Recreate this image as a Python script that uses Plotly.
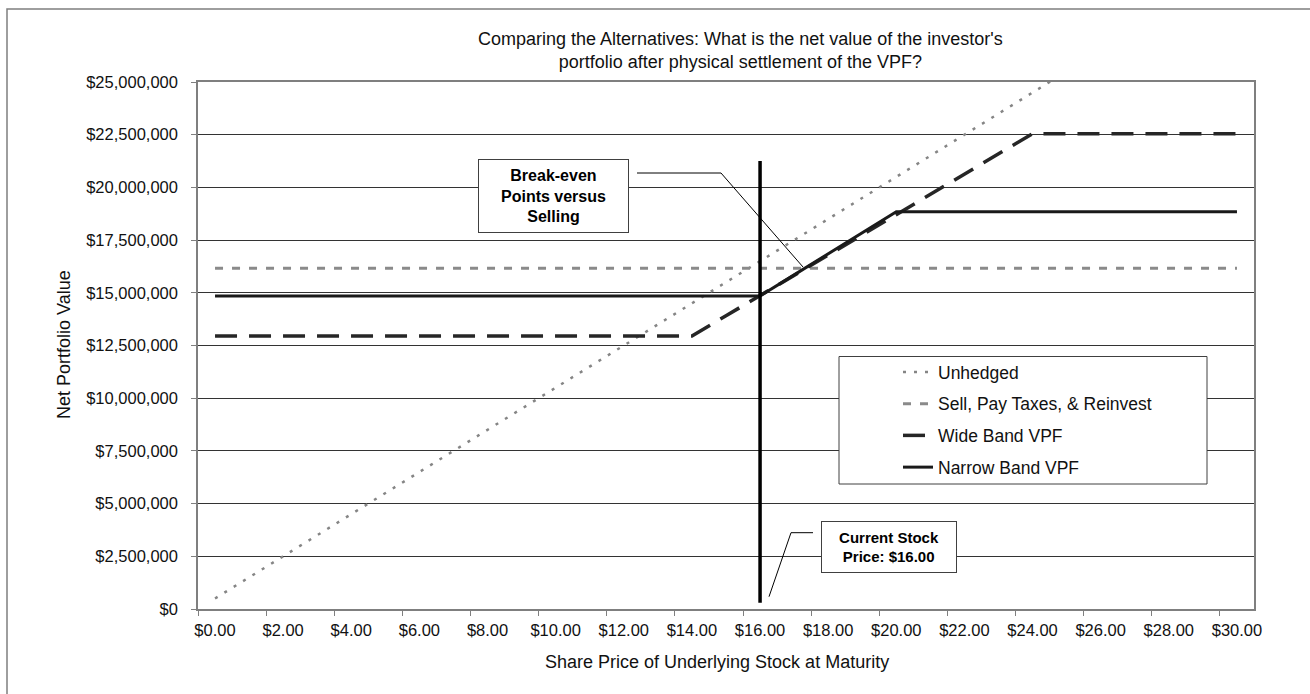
import plotly.graph_objects as go

# ---------------- data ----------------
prices = [0, 1, 2, 3, 4, 5, 6, 7, 8, 9, 10, 11, 12, 13, 14, 15,
          16, 17, 18, 19, 20, 21, 22, 23, 24, 25, 26, 27, 28, 29, 30]
x_tick_labels = ["$0.00", "$2.00", "$4.00", "$6.00", "$8.00", "$10.00", "$12.00", "$14.00",
                 "$16.00", "$18.00", "$20.00", "$22.00", "$24.00", "$26.00", "$28.00", "$30.00"]
y_ticks = [0, 2500000, 5000000, 7500000, 10000000, 12500000, 15000000,
           17500000, 20000000, 22500000, 25000000]

unhedged = [500000, 1500000, 2500000, 3500000, 4500000, 5500000, 6500000, 7500000,
            8500000, 9500000, 10500000, 11500000, 12500000, 13500000, 14500000, 15500000,
            16500000, 17500000, 18500000, 19500000, 20500000, 21500000, 22500000, 23500000,
            24500000, 25500000, 26500000, 27500000, 28500000, 29500000, 30500000]
sell_reinvest = [16170000, 16170000, 16170000, 16170000, 16170000, 16170000, 16170000, 16170000,
                 16170000, 16170000, 16170000, 16170000, 16170000, 16170000, 16170000, 16170000,
                 16170000, 16170000, 16170000, 16170000, 16170000, 16170000, 16170000, 16170000,
                 16170000, 16170000, 16170000, 16170000, 16170000, 16170000, 16170000]
wide_band = [12950000, 12950000, 12950000, 12950000, 12950000, 12950000, 12950000, 12950000,
             12950000, 12950000, 12950000, 12950000, 12950000, 12950000, 12950000, 13910000,
             14870000, 15830000, 16790000, 17750000, 18710000, 19670000, 20630000, 21590000,
             22550000, 22550000, 22550000, 22550000, 22550000, 22550000, 22550000]
narrow_band = [14850000, 14850000, 14850000, 14850000, 14850000, 14850000, 14850000, 14850000,
               14850000, 14850000, 14850000, 14850000, 14850000, 14850000, 14850000, 14850000,
               14850000, 15850000, 16850000, 17850000, 18850000, 18850000, 18850000, 18850000,
               18850000, 18850000, 18850000, 18850000, 18850000, 18850000, 18850000]

current_price = 16
current_line_span = [300000, 21250000]

# ---------------- layout helpers ----------------
W, H = 1310, 694
L, R, T, B = 198, 1254, 82, 609


def px(xp):
    return (xp - L) / (R - L)


def py(yp):
    return (B - yp) / (B - T)


def dx(xp):  # pixel -> data x (category index scale)
    return (xp - L) / (R - L) * 31 - 0.5


def dy(yp):
    return (B - yp) / (B - T) * 25000000


FONT = "Liberation Sans, Arial, sans-serif"
half_cat = int(round((R - L) / 31 / 2))

fig = go.Figure()
fig.add_trace(go.Scatter(x=prices, y=unhedged, name="Unhedged", mode="lines",
                         legendgroup="g1",
                         line=dict(color="#858585", width=2.5, dash="3px,8px")))
fig.add_trace(go.Scatter(x=prices, y=sell_reinvest, name="Sell, Pay Taxes, & Reinvest",
                         mode="lines", legendgroup="g2",
                         line=dict(color="#8a8a8a", width=3, dash="8px,9px")))
fig.add_trace(go.Scatter(x=prices, y=wide_band, name="Wide Band VPF", mode="lines",
                         legendgroup="g3",
                         line=dict(color="#262626", width=3.5, dash="22px,12px")))
fig.add_trace(go.Scatter(x=prices, y=narrow_band, name="Narrow Band VPF", mode="lines",
                         legendgroup="g4",
                         line=dict(color="#1a1a1a", width=3)))

shapes = [
    # outer chart border
    dict(type="rect", xref="paper", yref="paper", x0=px(7), y0=py(720), x1=px(1330), y1=py(9),
         line=dict(color="#7f7f7f", width=1.5), fillcolor="rgba(0,0,0,0)", layer="below"),
    # current stock price line
    dict(type="line", xref="x", yref="y", x0=current_price, x1=current_price,
         y0=current_line_span[0], y1=current_line_span[1],
         line=dict(color="#000000", width=3.5), layer="above"),
    # legend box
    dict(type="rect", xref="paper", yref="paper", x0=px(839), y0=py(484), x1=px(1207), y1=py(356.5),
         line=dict(color="#404040", width=1), fillcolor="white", layer="above"),
    # break-even callout
    dict(type="path", xref="x", yref="y",
         path="M %f,%f L %f,%f L %f,%f" % (dx(637), dy(173), dx(721), dy(173), dx(803), dy(267)),
         line=dict(color="#000000", width=1), layer="above"),
    # current stock callout
    dict(type="path", xref="x", yref="y",
         path="M %f,%f L %f,%f L %f,%f" % (dx(813), dy(532.7), dx(791), dy(532.7), dx(769), dy(596.7)),
         line=dict(color="#000000", width=1), layer="above"),
]

annotations = [
    dict(text="Comparing the Alternatives: What is the net value of the investor's<br>"
              "portfolio after physical settlement of the VPF?",
         xref="paper", yref="paper", x=px(740), y=py(50.5), xanchor="center", yanchor="middle",
         showarrow=False, font=dict(family=FONT, size=18, color="#111111")),
    dict(text="Net Portfolio Value", xref="paper", yref="paper", x=px(64), y=py(345),
         xanchor="center", yanchor="middle", textangle=-90, showarrow=False,
         font=dict(family=FONT, size=18, color="#111111")),
    dict(text="Share Price of Underlying Stock at Maturity", xref="paper", yref="paper",
         x=px(717), y=py(662), xanchor="center", yanchor="middle", showarrow=False,
         font=dict(family=FONT, size=18, color="#111111")),
    dict(text="<b>Break-even<br>Points versus<br>Selling</b>", xref="paper", yref="paper",
         x=px(553.5), y=py(196), xanchor="center", yanchor="middle", showarrow=False,
         width=141, height=64, bgcolor="white", bordercolor="#404040", borderwidth=1, borderpad=4,
         font=dict(family=FONT, size=16, color="#000000")),
    dict(text="<b>Current Stock<br>Price: $16.00</b>", xref="paper", yref="paper",
         x=px(888.7), y=py(547), xanchor="center", yanchor="middle", showarrow=False,
         width=126, height=42, bgcolor="white", bordercolor="#404040", borderwidth=1, borderpad=4,
         font=dict(family=FONT, size=15, color="#000000")),
]

fig.update_layout(
    width=W, height=H, autosize=False,
    margin=dict(l=L, r=W - R, t=T, b=H - B, pad=0),
    paper_bgcolor="white", plot_bgcolor="white",
    font=dict(family=FONT, color="#111111"),
    showlegend=True,
    legend=dict(x=px(898), y=py(354), xanchor="left", yanchor="top",
                bgcolor="rgba(0,0,0,0)", borderwidth=0, traceorder="grouped",
                tracegroupgap=6, font=dict(family=FONT, size=17.5, color="#111111")),
    shapes=shapes,
    annotations=annotations,
    xaxis=dict(range=[-0.5, 30.5], tickmode="array",
               tickvals=[p - 0.5 for p in prices[::2]], ticktext=x_tick_labels,
               ticklabelshift=half_cat, ticks="outside", ticklen=5, tickcolor="#7f7f7f",
               showgrid=False, zeroline=False, showline=True, linecolor="#7f7f7f",
               linewidth=1.5, mirror=True,
               tickfont=dict(family=FONT, size=16.5, color="#111111")),
    yaxis=dict(range=[0, 25000000], tickmode="array", tickvals=y_ticks, tickformat="$,.0f",
               ticks="outside", ticklen=5, tickcolor="#7f7f7f", showgrid=True,
               gridcolor="#333333", gridwidth=1, zeroline=False, showline=True,
               linecolor="#7f7f7f", linewidth=1.5, mirror=True, ticklabelstandoff=10,
               tickfont=dict(family=FONT, size=16.5, color="#111111")),
)

fig.write_html("out.html")
